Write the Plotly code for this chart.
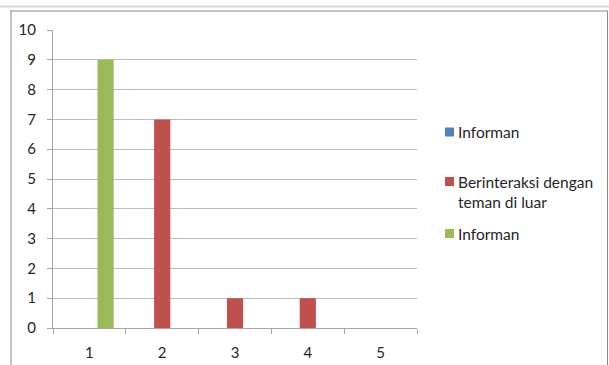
import plotly.graph_objects as go

categories = ["1", "2", "3", "4", "5"]
series_names = ["Informan", "Berinteraksi dengan<br>teman di luar", "Informan"]
blue_vals = [0, 0, 0, 0, 0]
red_vals = [0, 7, 1, 1, 0]
green_vals = [9, 0, 0, 0, 0]
colors = ["#4F81BD", "#C0504D", "#9BBB59"]
y_ticks = list(range(0, 11))

W, H = 609, 365
L, R, T, B = 53, 417, 30, 328

def px(x):
    return (x - L) / (R - L)

def py(y):
    return (B - y) / (B - T)

FONT_FAM = "Lato, Carlito, 'Open Sans', sans-serif"
TXT = "#262626"

fig = go.Figure()
for name, vals, col in zip(series_names, [blue_vals, red_vals, green_vals], colors):
    fig.add_trace(go.Bar(x=categories, y=vals, name=name.replace("<br>", " "),
                         marker=dict(color=col, line=dict(width=0)), showlegend=False))

fig.update_layout(
    width=W, height=H,
    margin=dict(l=L, r=W - R, t=T, b=H - B, autoexpand=False),
    paper_bgcolor="white", plot_bgcolor="white",
    barmode="group", bargap=0.333, bargroupgap=0,
    font=dict(family=FONT_FAM, size=15, color=TXT),
    showlegend=False,
    xaxis=dict(type="category", tickson="boundaries", ticks="outside", ticklen=5,
               tickcolor="#a6a6a6", showline=True, linecolor="#a6a6a6", linewidth=1,
               showgrid=False, ticklabelstandoff=11, fixedrange=True, automargin=False),
    yaxis=dict(range=[0, 10], tickvals=y_ticks, ticks="outside", ticklen=5,
               tickcolor="#a6a6a6", showline=True, linecolor="#a6a6a6", linewidth=1,
               showgrid=True, gridcolor="#bcbcbc", gridwidth=1, zeroline=False,
               ticklabelstandoff=8, fixedrange=True, automargin=False),
)

shapes = [
    dict(type="line", xref="paper", yref="paper", x0=px(0), x1=px(609), y0=py(6.5), y1=py(6.5),
         line=dict(color="#d6d6de", width=2)),
    dict(type="line", xref="paper", yref="paper", x0=px(10), x1=px(608), y0=py(11), y1=py(11),
         line=dict(color="#8c8c8c", width=1)),
    dict(type="line", xref="paper", yref="paper", x0=px(11), x1=px(11), y0=py(11), y1=py(366),
         line=dict(color="#8c8c8c", width=1)),
    dict(type="line", xref="paper", yref="paper", x0=px(607.5), x1=px(607.5), y0=py(11), y1=py(366),
         line=dict(color="#8c8c8c", width=1)),
]

# custom legend (Excel-like layout)
legend_centers = [132, 191.5, 233.5]
marker_centers = [132, 181.5, 233.5]
annotations = []
for name, col, yc, ym in zip(series_names, colors, legend_centers, marker_centers):
    shapes.append(dict(type="rect", xref="paper", yref="paper",
                       x0=px(445), x1=px(454), y0=py(ym - 4.5), y1=py(ym + 4.5),
                       fillcolor=col, line=dict(width=0)))
    annotations.append(dict(xref="paper", yref="paper", x=px(456), y=py(yc),
                            xanchor="left", yanchor="middle", align="left", showarrow=False,
                            text=name, font=dict(family=FONT_FAM, size=15.5, color=TXT)))

fig.update_layout(shapes=shapes, annotations=annotations)

fig.write_html("out.html")
